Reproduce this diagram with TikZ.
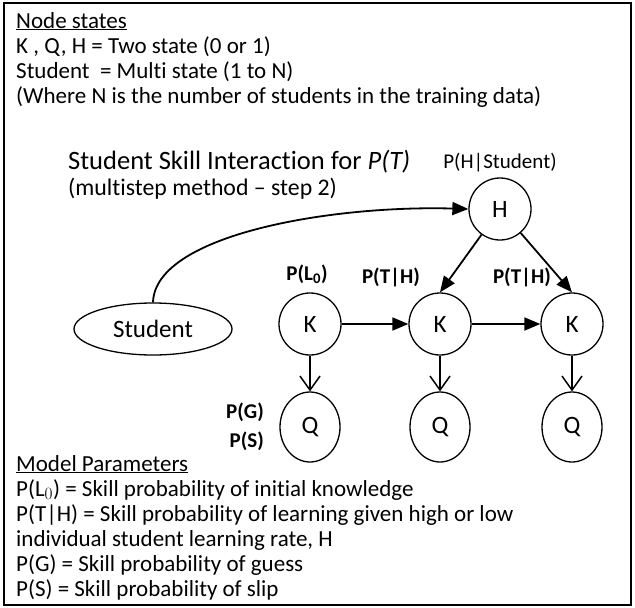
\documentclass[tikz,border=0pt]{standalone}
\usepackage{fontspec}
\setmainfont{Carlito}[Ligatures=NoCommon]
\usetikzlibrary{arrows.meta,shapes.geometric}
\begin{document}
\begin{tikzpicture}[x=1pt,y=-1pt,
  txt/.style={anchor=base west, inner sep=0pt, font=\fontsize{23}{27}\selectfont},
  lbl/.style={anchor=base, inner sep=0pt, font=\fontsize{21}{25}\selectfont\bfseries},
  var/.style={draw, line width=1.3pt, circle, minimum size=62pt, inner sep=0pt,
    font=\fontsize{25}{30}\selectfont},
  obs/.style={draw, line width=1.3pt, ellipse, minimum width=60pt, minimum height=70pt,
    inner sep=0pt, font=\fontsize{25}{30}\selectfont},
  edge/.style={line width=1.8pt, -{Triangle[length=16pt,width=13pt]}},
  emit/.style={line width=1.5pt, -{Straight Barb[length=14pt,width=20pt,line width=1.5pt]}}
]
\useasboundingbox (0,0) rectangle (635,608);
\draw[line width=1.5pt] (4,3) rectangle (631,605);

% legend of node states
\node[txt] (ns) at (16,28) {\underline{Node states}};
\node[txt] (ns1) at (16,53) {K , Q, H = Two state (0 or 1)};
\node[txt] (ns2) at (16,78) {Student\ \ = Multi state (1 to N)};
\node[txt] (ns3) at (16,103) {(Where N is the number of students in the training data)};

% title
\node[anchor=base west, inner sep=0pt, font=\fontsize{26.5}{30}\selectfont] (title) at (68,169)
  {Student Skill Interaction for \textit{P(T)}};
\node[anchor=base west, inner sep=0pt, font=\fontsize{23.8}{28}\selectfont] (sub) at (68,195)
  {(multistep method – step 2)};

% network
\node[var] (H) at (500,209) {H};
\node[var] (K1) at (310,324) {K};
\node[var] (K2) at (440,324) {K};
\node[var] (K3) at (572,324) {K};
\node[obs] (Q1) at (310,427) {Q};
\node[obs] (Q2) at (440,427) {Q};
\node[obs] (Q3) at (572,427) {Q};
\node[draw, line width=1.3pt, ellipse, minimum width=158pt, minimum height=52pt, inner sep=0pt,
  font=\fontsize{25}{30}\selectfont] (stu) at (153,329) {Student};

\draw[edge] (stu.north) .. controls (155,235) and (330,205) .. (H.west);
\draw[edge] (H) -- (K2.north);
\draw[edge] (H) -- (K3.north);
\draw[edge] (K1) -- (K2);
\draw[edge] (K2) -- (K3);
\draw[emit] (K1) -- (Q1);
\draw[emit] (K2) -- (Q2);
\draw[emit] (K3) -- (Q3);

% parameter labels
\node[anchor=base, inner sep=0pt, font=\fontsize{21}{25}\selectfont] (pH) at (500,168) {P(H|Student)};
\node[lbl] (pL) at (307,280) {P(L\textsubscript{0})};
\node[lbl] (pT1) at (391,283) {P(T|H)};
\node[lbl] (pT2) at (522,283) {P(T|H)};
\node[lbl, anchor=base east] (pG) at (264,418) {P(G)};
\node[lbl, anchor=base east] (pS) at (264,447) {P(S)};

% legend of model parameters
\node[txt] (mp) at (16,471) {\underline{Model Parameters}};
\node[txt] (mp1) at (16,496) {P(L$_0$) = Skill probability of initial knowledge};
\node[txt] (mp2) at (16,521) {P(T|H) = Skill probability of learning given high or low};
\node[txt] (mp3) at (16,546) {individual student learning rate, H};
\node[txt] (mp4) at (16,571) {P(G) = Skill probability of guess};
\node[txt] (mp5) at (16,596) {P(S) = Skill probability of slip};
\end{tikzpicture}
\end{document}
